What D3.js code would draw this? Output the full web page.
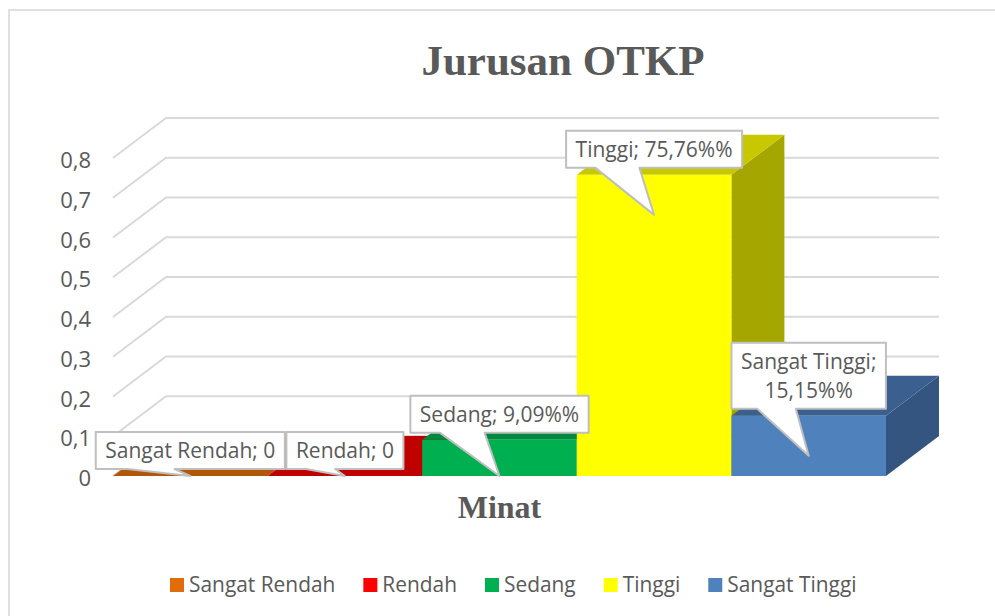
<!DOCTYPE html>
<html>
<head>
<meta charset="utf-8">
<script src="https://cdn.jsdelivr.net/npm/d3@7"></script>
<style>
  html, body { margin: 0; padding: 0; background: #fff; }
  svg { display: block; }
</style>
</head>
<body>
<div id="chart"></div>
<script>
// Chart data
var categories = ["Sangat Rendah", "Rendah", "Sedang", "Tinggi", "Sangat Tinggi"];
var values = [0, 0, 0.0909, 0.7576, 0.1515];
var labelValues = ["0", "0", "9,09%%", "75,76%%", "15,15%%"];
var ticks = [0, 0.1, 0.2, 0.3, 0.4, 0.5, 0.6, 0.7, 0.8];
var frontColors = ["#E36C0A", "#FF0000", "#00B050", "#FFFF00", "#4F81BD"];
var topColors = ["#B45608", "#C00000", "#008A3F", "#C8C800", "#3B6090"];
var sideColors = ["#A04C07", "#A80000", "#007A38", "#A6A600", "#34557F"];

var width = 995;
var height = 616;
var depthX = 53;
var depthY = 40;
var sansFont = "'Open Sans', sans-serif";
var textColor = "#595959";

var svg = d3
  .select("#chart")
  .append("svg")
  .attr("width", width)
  .attr("height", height);

// Chart border, only the top and left edges fall inside the picture
svg
  .append("path")
  .attr("fill", "none")
  .attr("stroke", "#E0E0E0")
  .attr("stroke-width", 2)
  .attr("d", "M9,616V10H995");

var x = d3.scaleBand().domain(categories).range([113, 886]);
var y = d3.scaleLinear().domain([0, 0.8]).range([476, 158]);

// Title
svg
  .append("text")
  .attr("x", 563)
  .attr("y", 75)
  .attr("text-anchor", "middle")
  .attr("font-family", "'Liberation Serif', serif")
  .attr("font-weight", "bold")
  .attr("font-size", "43px")
  .attr("fill", textColor)
  .text("Jurusan OTKP");

// Gridlines, front edge to back wall
svg
  .selectAll(".grid")
  .data(ticks)
  .enter()
  .append("path")
  .attr("class", "grid")
  .attr("fill", "none")
  .attr("stroke", "#D9D9D9")
  .attr("stroke-width", 2)
  .attr("d", function (d) {
    var line = d3.path();
    line.moveTo(x.range()[0], y(d));
    line.lineTo(x.range()[0] + depthX, y(d) - depthY);
    line.lineTo(x.range()[1] + depthX, y(d) - depthY);
    return line.toString();
  });

// Y axis labels
svg
  .selectAll(".tick-label")
  .data(ticks)
  .enter()
  .append("text")
  .attr("class", "tick-label")
  .attr("x", 91)
  .attr("y", function (d) {
    return y(d) + 10;
  })
  .attr("text-anchor", "end")
  .attr("font-family", sansFont)
  .attr("font-size", "22px")
  .attr("fill", textColor)
  .text(function (d) {
    return d === 0 ? "0" : d.toFixed(1).replace(".", ",");
  });

// Bars, each one a front, top and side face
var bars = svg
  .selectAll(".bar")
  .data(categories)
  .enter()
  .append("g")
  .attr("class", "bar");

function poly(points) {
  return d3.line()(points) + "Z";
}

bars
  .append("path")
  .attr("fill", function (d, i) {
    return sideColors[i];
  })
  .attr("d", function (d, i) {
    var x1 = x(d) + x.bandwidth();
    return poly([
      [x1, y(0)],
      [x1, y(values[i])],
      [x1 + depthX, y(values[i]) - depthY],
      [x1 + depthX, y(0) - depthY],
    ]);
  });

bars
  .append("path")
  .attr("fill", function (d, i) {
    return topColors[i];
  })
  .attr("d", function (d, i) {
    var x0 = x(d);
    var x1 = x0 + x.bandwidth();
    var top = y(values[i]);
    return poly([
      [x0, top],
      [x1, top],
      [x1 + depthX, top - depthY],
      [x0 + depthX, top - depthY],
    ]);
  });

bars
  .append("rect")
  .attr("x", function (d) {
    return x(d);
  })
  .attr("y", function (d, i) {
    return y(values[i]);
  })
  .attr("width", x.bandwidth())
  .attr("height", function (d, i) {
    return y(0) - y(values[i]);
  })
  .attr("fill", function (d, i) {
    return frontColors[i];
  });

// Data label callouts
var fontSize = 21;
var lineHeight = 29;
var labels = svg
  .selectAll(".callout")
  .data(categories)
  .enter()
  .append("g")
  .attr("class", "callout");

labels.each(function (d, i) {
  var g = d3.select(this);
  var center = x(d) + x.bandwidth() / 2;
  var barTop = y(values[i]);
  var lines = i === 4
    ? [d + ";", labelValues[i]]
    : [d + "; " + labelValues[i]];

  var shape = g.append("path");
  var text = g
    .append("text")
    .attr("text-anchor", "middle")
    .attr("font-family", sansFont)
    .attr("font-size", fontSize + "px")
    .attr("fill", textColor);
  lines.forEach(function (s) {
    text.append("tspan").attr("x", center).text(s);
  });

  var textWidth = d3.max(text.selectAll("tspan").nodes(), function (n) {
    return n.getComputedTextLength();
  });
  var boxW = textWidth + 19;
  var boxH = lines.length * lineHeight + 8;
  var left = center - boxW / 2;
  var bottom = barTop - 7;
  var boxTop = bottom - boxH;
  var tipY = Math.min(y(0), barTop + 40);

  text.selectAll("tspan").attr("y", function (s, k) {
    return boxTop + 26 + k * lineHeight;
  });

  shape
    .attr("fill", "white")
    .attr("stroke", "#BFBFBF")
    .attr("stroke-width", 2)
    .attr("stroke-linejoin", "round")
    .attr("d", poly([
      [left, boxTop],
      [left + boxW, boxTop],
      [left + boxW, bottom],
      [left + (boxW * 5) / 12, bottom],
      [center, tipY],
      [left + boxW / 6, bottom],
      [left, bottom],
    ]));
});

// Axis title
svg
  .append("text")
  .attr("x", 499.5)
  .attr("y", 518)
  .attr("text-anchor", "middle")
  .attr("font-family", "'Liberation Serif', serif")
  .attr("font-weight", "bold")
  .attr("font-size", "32px")
  .attr("fill", textColor)
  .text("Minat");

// Legend
var legendX = 170;
categories.forEach(function (d, i) {
  svg
    .append("rect")
    .attr("x", legendX)
    .attr("y", 578)
    .attr("width", 14)
    .attr("height", 14)
    .attr("fill", frontColors[i]);
  var t = svg
    .append("text")
    .attr("x", legendX + 19)
    .attr("y", 592)
    .attr("font-family", sansFont)
    .attr("font-size", "20.9px")
    .attr("fill", textColor)
    .text(d);
  legendX += 19 + t.node().getComputedTextLength() + 28;
});
</script>
</body>
</html>
